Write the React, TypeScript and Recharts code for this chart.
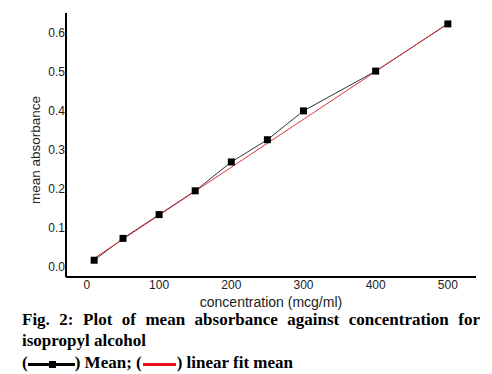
import React from 'react';
import { ComposedChart, Line, XAxis, YAxis } from 'recharts';

const concentrations = [10, 50, 100, 150, 200, 250, 300, 400, 500];
const meanAbsorbance = [0.017, 0.073, 0.134, 0.195, 0.269, 0.326, 0.4, 0.502, 0.623];
const fitConcentrations = [10, 500];
const fitAbsorbance = [0.022, 0.624];
const xTicks = [0, 100, 200, 300, 400, 500];
const yTicks = [0, 0.1, 0.2, 0.3, 0.4, 0.5, 0.6];

const meanData = concentrations.map((c, i) => ({ x: c, y: meanAbsorbance[i] }));
const fitData = fitConcentrations.map((c, i) => ({ x: c, y: fitAbsorbance[i] }));

const SquareDot = (props: any) => {
  const { cx, cy } = props;
  if (cx == null || cy == null) return null;
  return <rect x={cx - 3.5} y={cy - 3.5} width={7} height={7} fill="#000" />;
};

const axisFont = { fontFamily: 'Liberation Sans, Arial, sans-serif', fontSize: 12, fill: '#222' };

export default function App() {
  return (
    <div style={{ position: 'absolute', left: 0, top: 0, width: 492, height: 374, background: '#fff', overflow: 'hidden' }}>
      <ComposedChart width={492} height={310} margin={{ top: 13, right: 16, bottom: 3, left: 0 }}>
        <XAxis
          dataKey="x"
          type="number"
          domain={[-29, 539]}
          ticks={xTicks}
          allowDataOverflow
          tickLine={false}
          tickSize={0}
          tickMargin={3}
          axisLine={{ stroke: '#000', strokeWidth: 2 }}
          tick={axisFont}
          height={30}
          label={{ value: 'concentration (mcg/ml)', position: 'insideBottom', offset: 0, style: { fontFamily: 'Liberation Sans, Arial, sans-serif', fontSize: 14, fill: '#222' } }}
        />
        <YAxis
          dataKey="y"
          type="number"
          domain={[-0.026, 0.651]}
          ticks={yTicks}
          allowDataOverflow
          tickLine={false}
          tickSize={0}
          tickMargin={1}
          width={66}
          axisLine={{ stroke: '#000', strokeWidth: 2 }}
          tick={axisFont}
          tickFormatter={(v: number) => v.toFixed(1)}
          label={(p: any) => {
            const vb = p.viewBox || {};
            const cy = (vb.y || 0) + (vb.height || 0) / 2 + 5;
            return (
              <text
                x={35}
                y={cy}
                transform={`rotate(-90 35 ${cy})`}
                textAnchor="middle"
                dominantBaseline="central"
                style={{ fontFamily: 'Liberation Sans, Arial, sans-serif', fontSize: 13.5, fill: '#222' }}
              >
                mean absorbance
              </text>
            );
          }}
        />
        <Line
          data={meanData}
          dataKey="y"
          type="linear"
          stroke="#333"
          strokeWidth={1}
          dot={<SquareDot />}
          activeDot={false}
          isAnimationActive={false}
        />
        <Line
          data={fitData}
          dataKey="y"
          type="linear"
          stroke="#e0323c"
          strokeWidth={1}
          dot={false}
          activeDot={false}
          isAnimationActive={false}
        />
      </ComposedChart>
      <div
        style={{
          position: 'absolute',
          left: 22,
          top: 309,
          width: 458,
          fontFamily: 'Liberation Serif, Times New Roman, serif',
          fontWeight: 'bold',
          fontSize: 17,
          lineHeight: '21px',
          color: '#000',
        }}
      >
        <div style={{ textAlign: 'justify', textAlignLast: 'justify' as any, whiteSpace: 'nowrap' }}>
          Fig. 2: Plot of mean absorbance against concentration for
        </div>
        <div>isopropyl alcohol</div>
        <div style={{ whiteSpace: 'nowrap', marginTop: 1 }}>
          (
          <span style={{ display: 'inline-block', verticalAlign: 'middle', position: 'relative', width: 47, height: 7 }}>
            <span style={{ position: 'absolute', left: 0, right: 0, top: 2, height: 3, background: '#000' }} />
            <span style={{ position: 'absolute', left: 21, top: 0, width: 7, height: 7, background: '#000' }} />
          </span>
          ) Mean; (
          <span style={{ display: 'inline-block', verticalAlign: 'middle', width: 33, height: 3, background: '#e8121c', margin: '0 1px' }} />
          ) linear fit mean
        </div>
      </div>
    </div>
  );
}
